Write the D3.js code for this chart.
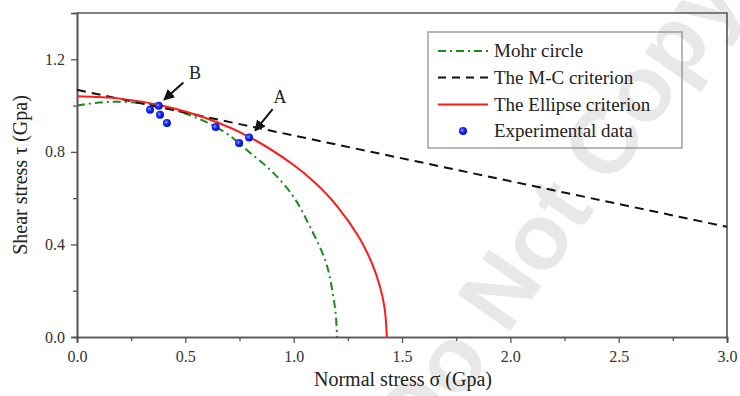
<!DOCTYPE html>
<html>
<head>
<meta charset="utf-8">
<script src="https://cdn.jsdelivr.net/npm/d3@7"></script>
<style>
  body { margin: 0; background: #fff; }
  svg { display: block; }
</style>
</head>
<body>
<script>
// values (Gpa)
var mohrSigma = [0, 0.1, 0.2, 0.3, 0.4, 0.5, 0.6, 0.7, 0.8, 0.9, 1.0, 1.075, 1.15, 1.183, 1.195, 1.2];
var mohrTau   = [1.000, 1.013, 1.016, 1.010, 0.993, 0.966, 0.927, 0.873, 0.795, 0.715, 0.605, 0.477, 0.320, 0.174, 0.090, 0];

var mcSigma = [0, 3.0];
var mcTau   = [1.068, 0.476];

var ellSigma = [0, 0.2, 0.4, 0.6, 0.8, 1.0, 1.1, 1.2, 1.3, 1.36, 1.4, 1.42, 1.43];
var ellTau   = [1.040, 1.030, 0.998, 0.944, 0.862, 0.743, 0.665, 0.566, 0.433, 0.321, 0.212, 0.123, 0];

var expSigma = [0.337, 0.377, 0.383, 0.415, 0.640, 0.748, 0.794];
var expTau   = [0.982, 0.999, 0.960, 0.925, 0.907, 0.838, 0.862];

var xTicks = [0, 0.5, 1.0, 1.5, 2.0, 2.5, 3.0];
var xMinor = [0.25, 0.75, 1.25, 1.75, 2.25, 2.75];
var yTicks = [0, 0.4, 0.8, 1.2];
var yMinor = [0.2, 0.6, 1.0];

var legendNames = ["Mohr circle", "The M-C criterion", "The Ellipse criterion", "Experimental data"];

// arrows: label, [tail sigma, tail tau], [tip sigma, tip tau], label position
var notes = [
  { label: "B", tail: [0.491, 1.100], tip: [0.402, 1.025], at: [0.545, 1.116] },
  { label: "A", tail: [0.903, 0.985], tip: [0.822, 0.892], at: [0.937, 1.012] }
];

var w = 740;
var h = 396;
var margin = { top: 13, right: 13, bottom: 59, left: 77 };

var serif = "'Liberation Serif', 'Times New Roman', serif";

var svg = d3.select("body")
      .append("svg")
      .attr("width", w)
      .attr("height", h);

var x = d3.scaleLinear().domain([0, 3]).range([margin.left, w - margin.right]);
var y = d3.scaleLinear().domain([0, 1.4]).range([h - margin.bottom, margin.top]);

var defs = svg.append("defs");
var grad = defs.append("radialGradient")
    .attr("id", "ball")
    .attr("cx", "40%").attr("cy", "40%").attr("r", "60%");
grad.append("stop").attr("offset", "0%").attr("stop-color", "#8fa0ff");
grad.append("stop").attr("offset", "45%").attr("stop-color", "#1a2cff");
grad.append("stop").attr("offset", "100%").attr("stop-color", "#0008c0");

defs.append("marker")
    .attr("id", "head")
    .attr("viewBox", "0 0 10 10")
    .attr("refX", 9).attr("refY", 5)
    .attr("markerWidth", 5.5).attr("markerHeight", 5.5)
    .attr("orient", "auto")
  .append("path")
    .attr("d", "M0,0 L10,5 L0,10 z")
    .attr("fill", "#111");

// watermark
svg.append("text")
    .attr("transform", "translate(582,228) rotate(-55)")
    .attr("text-anchor", "middle")
    .attr("font-family", "'Liberation Sans', Arial, sans-serif")
    .attr("font-weight", "bold")
    .attr("font-size", 93)
    .attr("fill", "#e8e8e8")
    .text("Do Not Copy");

// axes
svg.append("g")
    .attr("transform", "translate(0," + y(0) + ")")
    .call(d3.axisBottom(x).tickValues(xTicks).tickFormat(d3.format(".1f")).tickSize(6).tickPadding(8));
svg.append("g")
    .attr("transform", "translate(0," + y(0) + ")")
    .call(d3.axisBottom(x).tickValues(xMinor).tickFormat("").tickSize(4));
svg.append("g")
    .attr("transform", "translate(" + x(0) + ",0)")
    .call(d3.axisLeft(y).tickValues(yTicks).tickFormat(d3.format(".1f")).tickSize(6).tickPadding(6));
svg.append("g")
    .attr("transform", "translate(" + x(0) + ",0)")
    .call(d3.axisLeft(y).tickValues(yMinor).tickFormat("").tickSize(4));

svg.selectAll(".domain").attr("stroke", "#555").attr("stroke-width", 1.6);
svg.selectAll(".tick line").attr("stroke", "#555").attr("stroke-width", 1.3);
svg.selectAll(".tick text")
    .attr("font-family", serif)
    .attr("font-size", 16)
    .attr("fill", "#333");

// frame top and right
svg.append("path")
    .attr("d", "M" + x(0) + "," + y(1.4) + "H" + x(3) + "V" + y(0))
    .attr("fill", "none")
    .attr("stroke", "#555")
    .attr("stroke-width", 1.6);

// axis titles
svg.append("text")
    .attr("x", (x(0) + x(3)) / 2 + 1)
    .attr("y", 386)
    .attr("text-anchor", "middle")
    .attr("font-family", serif)
    .attr("font-size", 20)
    .attr("fill", "#222")
    .text("Normal stress σ (Gpa)");

svg.append("text")
    .attr("transform", "translate(27," + y(0.7) + ") rotate(-90)")
    .attr("text-anchor", "middle")
    .attr("font-family", serif)
    .attr("font-size", 20)
    .attr("fill", "#222")
    .text("Shear stress τ (Gpa)");

// curves
var line = d3.line()
    .x(function(d) { return x(d[0]); })
    .y(function(d) { return y(d[1]); })
    .curve(d3.curveCatmullRom.alpha(0.5));

var plot = svg.append("g");

plot.append("path")
    .datum(d3.zip(mohrSigma, mohrTau))
    .attr("d", line)
    .attr("fill", "none")
    .attr("stroke", "#1a8a1a")
    .attr("stroke-width", 2)
    .attr("stroke-dasharray", "8,4,2,4");

plot.append("path")
    .datum(d3.zip(mcSigma, mcTau))
    .attr("d", line)
    .attr("fill", "none")
    .attr("stroke", "#111")
    .attr("stroke-width", 2)
    .attr("stroke-dasharray", "9,6");

plot.append("path")
    .datum(d3.zip(ellSigma, ellTau))
    .attr("d", line)
    .attr("fill", "none")
    .attr("stroke", "#ff1a1a")
    .attr("stroke-width", 2);

plot.selectAll("circle.exp")
    .data(d3.zip(expSigma, expTau))
    .enter()
    .append("circle")
    .attr("class", "exp")
    .attr("cx", function(d) { return x(d[0]); })
    .attr("cy", function(d) { return y(d[1]); })
    .attr("r", 4)
    .attr("fill", "url(#ball)");

// A / B annotations
notes.forEach(function(n) {
  svg.append("line")
      .attr("x1", x(n.tail[0])).attr("y1", y(n.tail[1]))
      .attr("x2", x(n.tip[0])).attr("y2", y(n.tip[1]))
      .attr("stroke", "#111")
      .attr("stroke-width", 2)
      .attr("marker-end", "url(#head)");
  svg.append("text")
      .attr("x", x(n.at[0]))
      .attr("y", y(n.at[1]))
      .attr("text-anchor", "middle")
      .attr("font-family", serif)
      .attr("font-size", 18)
      .attr("fill", "#222")
      .text(n.label);
});

// legend
var lg = svg.append("g").attr("transform", "translate(428,32)");
lg.append("rect")
    .attr("width", 254)
    .attr("height", 116)
    .attr("fill", "none")
    .attr("stroke", "#888")
    .attr("stroke-width", 1.2);

var rowY = [19, 45.5, 72.5, 99];
var styles = [
  { stroke: "#1a8a1a", dash: "8,4,2,4" },
  { stroke: "#111", dash: "8,6" },
  { stroke: "#ff1a1a", dash: null },
  null
];

legendNames.forEach(function(name, i) {
  var s = styles[i];
  if (s) {
    lg.append("line")
        .attr("x1", 10).attr("x2", 60)
        .attr("y1", rowY[i]).attr("y2", rowY[i])
        .attr("stroke", s.stroke)
        .attr("stroke-width", 2)
        .attr("stroke-dasharray", s.dash);
  } else {
    lg.append("circle")
        .attr("cx", 35).attr("cy", rowY[i])
        .attr("r", 4)
        .attr("fill", "url(#ball)");
  }
  lg.append("text")
      .attr("x", 66)
      .attr("y", rowY[i])
      .attr("dy", "0.34em")
      .attr("font-family", serif)
      .attr("font-size", 19)
      .attr("fill", "#222")
      .text(name);
});
</script>
</body>
</html>
